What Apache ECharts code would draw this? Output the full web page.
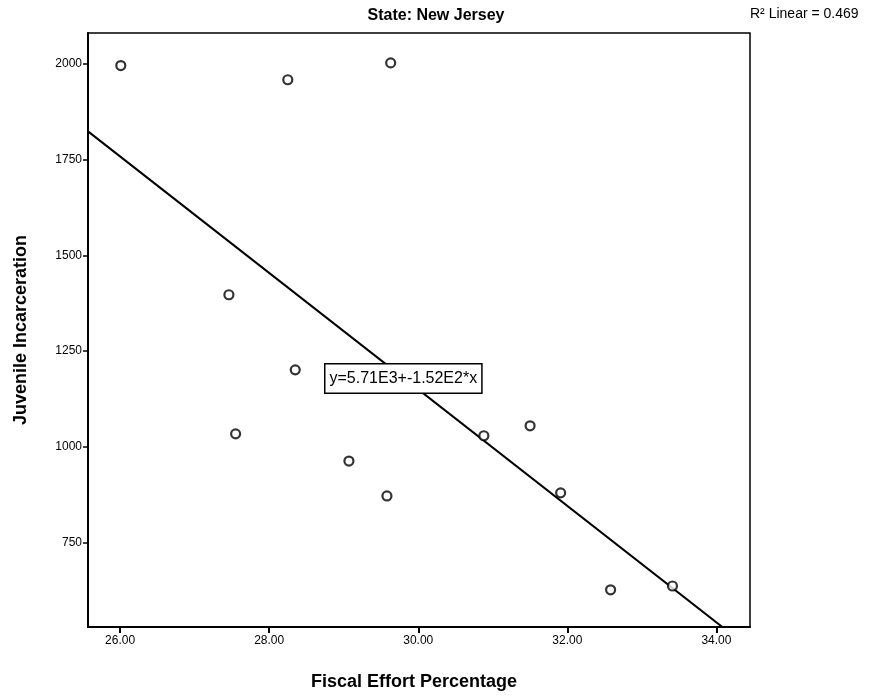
<!DOCTYPE html>
<html>
<head>
<meta charset="utf-8">
<script src="https://cdn.jsdelivr.net/npm/echarts@6/dist/echarts.min.js"></script>
<style>
html, body { margin: 0; padding: 0; background: #fff; }
#main { width: 874px; height: 699px; }
</style>
</head>
<body>
<div id="main"></div>
<script>
// 散点数据 (Fiscal Effort %, Juvenile Incarceration)
var fiscalEffort = [26.01, 28.25, 29.63, 27.46, 28.35, 27.55, 29.07, 29.58, 30.88, 31.50, 31.91, 32.58, 33.41];
var incarceration = [1995, 1958, 2002, 1397, 1201, 1034, 963, 872, 1029, 1055, 880, 627, 637];

// 刻度
var xTicks = [26, 28, 30, 32, 34];
var yTicks = [750, 1000, 1250, 1500, 1750, 2000];
var xRange = [25.57, 34.45];
var yRange = [530, 2080];

// 拟合线 y = 5.71E3 + -1.52E2 * x
var fitIntercept = 5710;
var fitSlope = -152;
var fitLabel = 'y=5.71E3+-1.52E2*x';
var r2Label = 'R² Linear = 0.469';

var myChart = echarts.init(document.getElementById('main'));

var points = [];
fiscalEffort.map(function (item, index) {
	points.push([item, incarceration[index]]);
});

var fitLine = [
	[xRange[0], fitIntercept + fitSlope * xRange[0]],
	[xRange[1], fitIntercept + fitSlope * xRange[1]]
];

var font = 'Liberation Sans, Arial, sans-serif';

var option = {
	backgroundColor: '#fff',
	animation: false,
	title: {
		text: 'State: New Jersey',
		left: 431,
		top: 3,
		textAlign: 'center',
		textStyle: { fontFamily: font, fontSize: 16, fontWeight: 'bold', color: '#000' }
	},
	grid: {
		left: 88,
		top: 33,
		right: 124,
		bottom: 72,
		show: true,
		borderColor: '#000',
		borderWidth: 1.5
	},
	xAxis: {
		type: 'value',
		min: xRange[0],
		max: xRange[1],
		name: 'Fiscal Effort Percentage',
		nameLocation: 'middle',
		nameGap: 46,
		nameTextStyle: { fontFamily: font, fontSize: 18, fontWeight: 'bold', color: '#000', padding: [0, 0, 0, -10] },
		splitLine: { show: false },
		axisLine: { lineStyle: { color: '#000', width: 2 } },
		axisTick: { show: true, length: 6, lineStyle: { color: '#000', width: 2 }, customValues: xTicks },
		axisLabel: {
			customValues: xTicks,
			fontFamily: font, fontSize: 12, color: '#000', margin: 8,
			formatter: function (val) { return val.toFixed(2); }
		}
	},
	yAxis: {
		type: 'value',
		min: yRange[0],
		max: yRange[1],
		name: 'Juvenile Incarceration',
		nameLocation: 'middle',
		nameGap: 58,
		nameTextStyle: { fontFamily: font, fontSize: 18, fontWeight: 'bold', color: '#000' },
		splitLine: { show: false },
		axisLine: { show: true, lineStyle: { color: '#000', width: 2 } },
		axisTick: { show: true, length: 5, lineStyle: { color: '#000', width: 1.5 }, customValues: yTicks },
		axisLabel: {
			customValues: yTicks,
			fontFamily: font, fontSize: 12, color: '#000', margin: 6,
			formatter: function (val) { return String(val); }
		}
	},
	graphic: [
		{
			type: 'text',
			left: 750,
			top: 7,
			style: { text: r2Label, fontFamily: font, fontSize: 14, fill: '#000' }
		},
		{
			type: 'text',
			left: 324,
			top: 363,
			z: 10,
			style: {
				text: fitLabel,
				fontFamily: font, fontSize: 16, fill: '#000',
				backgroundColor: '#fff',
				borderColor: '#000',
				borderWidth: 1.5,
				padding: [6, 4, 6, 4]
			}
		}
	],
	series: [
		{
			type: 'line',
			data: fitLine,
			symbol: 'none',
			clip: true,
			lineStyle: { color: '#000', width: 2 },
			z: 2
		},
		{
			type: 'scatter',
			data: points,
			symbol: 'circle',
			symbolSize: 9,
			itemStyle: { color: '#fff', borderColor: '#000', borderWidth: 2.2 },
			z: 3
		}
	]
};

myChart.setOption(option);
</script>
</body>
</html>
